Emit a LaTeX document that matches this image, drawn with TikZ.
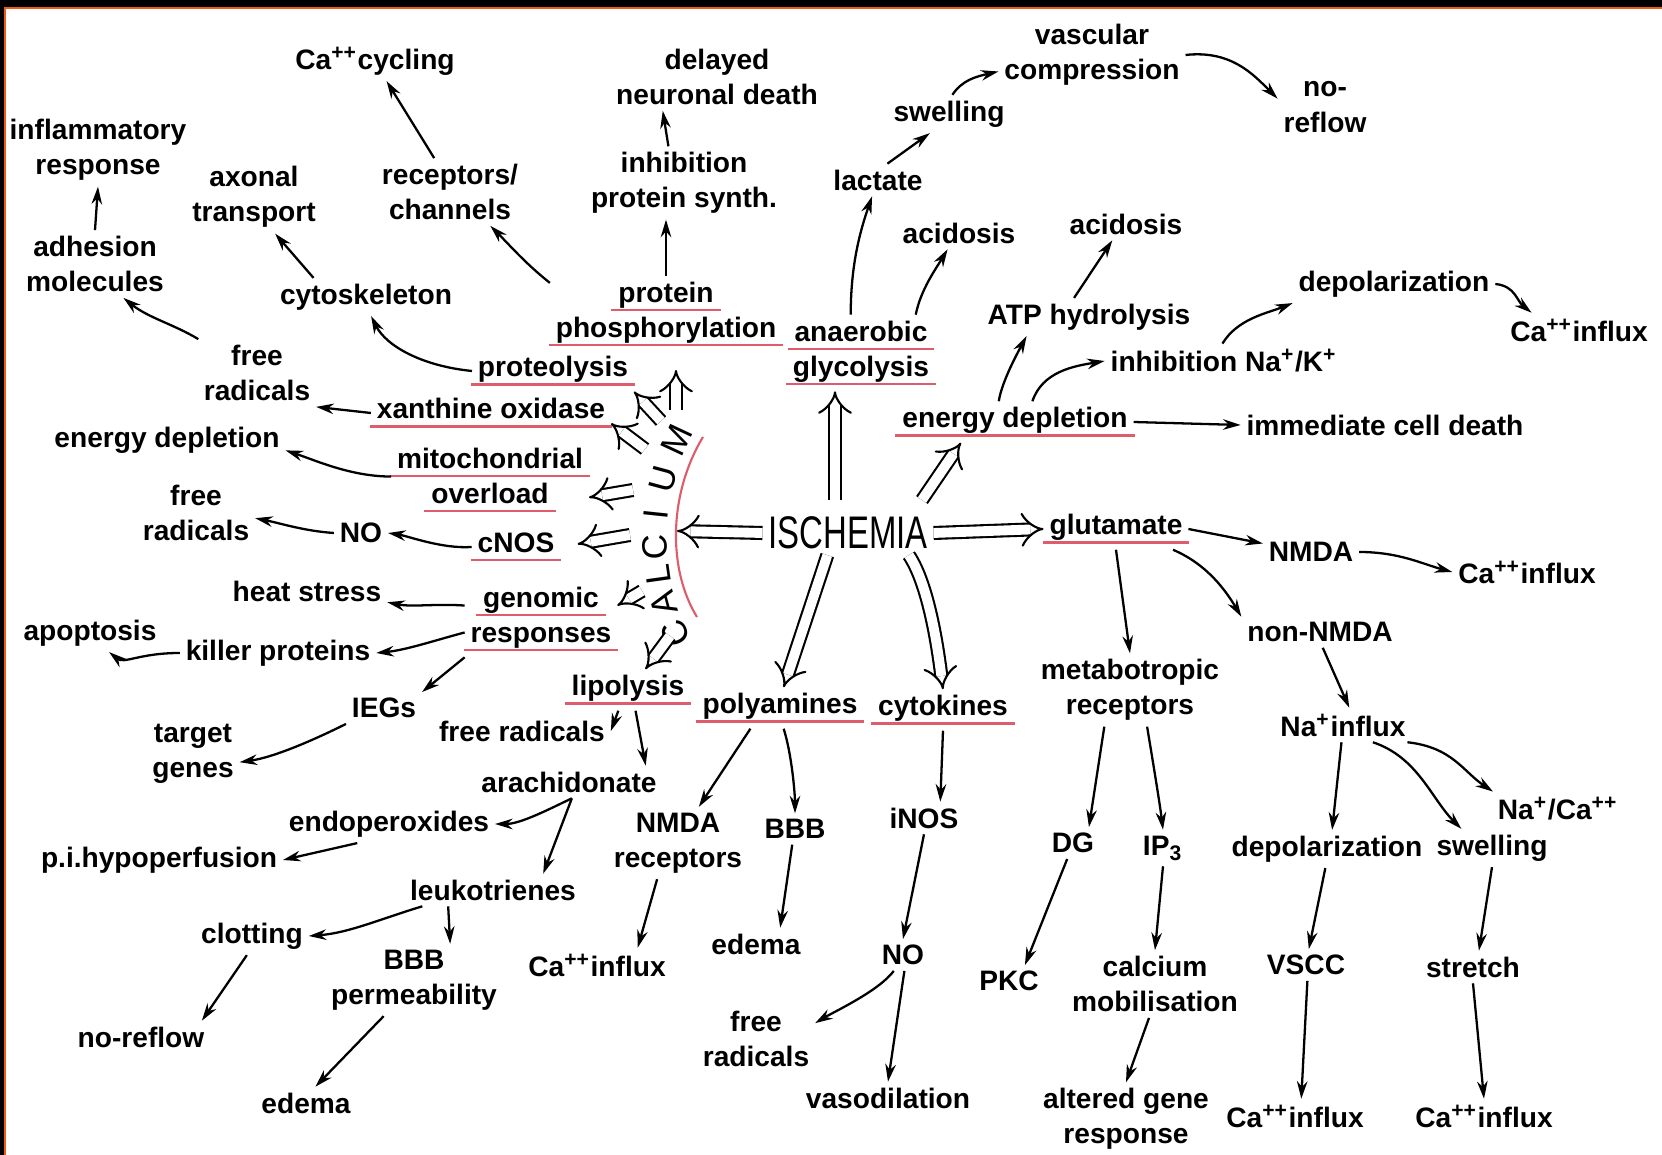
\documentclass[tikz,border=0pt]{standalone}
\usepackage{fontspec}
\setmainfont{Liberation Sans}
\usetikzlibrary{arrows.meta}
\definecolor{ulred}{RGB}{222,92,108}
\definecolor{frameorange}{RGB}{240,90,20}
\newcommand{\Capp}{Ca\textsuperscript{++}}
\newcommand{\redul}[1]{\setbox0=\hbox{#1}\rlap{\kern-2pt\textcolor{ulred}{\rule[-2.6pt]{\dimexpr\wd0+4pt\relax}{0.7pt}}}\box0}

\begin{document}
\begin{tikzpicture}[x=0.01cm, y=-0.01cm,
        every node/.style={font=\fontsize{8}{10}\selectfont\bfseries, align=center, inner sep=1.5pt},
        arr/.style={-{Stealth[length=5pt, width=3pt]}, line width=0.65pt},
        fat/.style={double, double distance=2.8pt, line width=0.6pt, -{Implies[scale=1.8]}},
        bigtext/.style={font=\fontsize{13}{15}\selectfont},
        ringletter/.style={font=\fontsize{10}{12}\selectfont, inner sep=0pt}
    ]
        \useasboundingbox (0,0) rectangle (1662,1155);
        \fill[white] (0,0) rectangle (1662,1155);
        \fill[black] (0,0) rectangle (1662,7);
        \fill[black] (0,0) rectangle (4,1155);
        \draw[frameorange, line width=0.6pt] (5,1155) -- (5,8) -- (1662,8);

        \node (cacyc) at (375,61) {\Capp cycling};
        \node (delayed) at (717,77) {delayed\\neuronal death};
        \node (vascular) at (1092,55) {vascular\\compression};
        \node (noreflowA) at (1325,107) {no-\\reflow};
        \node (inflam) at (98,150) {inflammatory\\response};
        \node (axonal) at (254,197) {axonal\\transport};
        \node (recept) at (450,192) {receptors/\\channels};
        \node (inhib) at (684,183) {inhibition\\protein synth.};
        \node (swellA) at (949,114) {swelling};
        \node (lactate) at (878,180) {lactate};
        \node (acidA) at (959,233) {acidosis};
        \node (acidB) at (1126,224) {acidosis};
        \node (adhesion) at (95,264) {adhesion\\molecules};
        \node (cytosk) at (366,297) {cytoskeleton};
        \node (protphos) at (666,314) {\redul{protein}\\\redul{phosphorylation}};
        \node (atp) at (1089,317) {ATP hydrolysis};
        \node (depolA) at (1394,284) {depolarization};
        \node (cainA) at (1579,330) {\Capp influx};
        \node (anaer) at (861,353) {\redul{anaerobic}\\\redul{glycolysis}};
        \node (freeradA) at (257,373) {free\\radicals};
        \node (proteo) at (553,371) {\redul{proteolysis}};
        \node (inhibNa) at (1224,361) {inhibition Na\textsuperscript{+}/K\textsuperscript{+}};
        \node (xanth) at (491,413) {\redul{xanthine oxidase}};
        \node (energyL) at (167,440) {energy depletion};
        \node (energyR) at (1015,422) {\redul{energy depletion}};
        \node (immed) at (1385,425) {immediate cell death};
        \node (mito) at (490,480) {\redul{mitochondrial}\\\redul{overload}};
        \node (freeradB) at (196,513) {free\\radicals};
        \node (noA) at (361,533) {NO};
        \node (cnos) at (516,547) {\redul{cNOS}};
        \node[bigtext] (isch) at (848,533) {\scalebox{0.72}[1]{ISCHEMIA}};
        \node (glut) at (1116,529) {\redul{glutamate}};
        \node (nmdaA) at (1311,552) {NMDA};
        \node (cainB) at (1527,572) {\Capp influx};
        \node (heat) at (307,591) {heat stress};
        \node (genomic) at (541,619) {\redul{genomic}\\\redul{responses}};
        \node (apopt) at (90,633) {apoptosis};
        \node (killer) at (278,653) {killer proteins};
        \node (nonnmda) at (1320,632) {non-NMDA};
        \node (metabo) at (1130,690) {metabotropic\\receptors};
        \node (lipo) at (628,690) {\redul{lipolysis}};
        \node (polyam) at (780,708) {\redul{polyamines}};
        \node (cytok) at (943,710) {\redul{cytokines}};
        \node (iegs) at (384,708) {IEGs};
        \node (freeradC) at (522,731) {free radicals};
        \node (target) at (193,754) {target\\genes};
        \node (nainf) at (1343,725) {Na\textsuperscript{+}influx};
        \node (arach) at (569,782) {arachidonate};
        \node (endo) at (389,824) {endoperoxides};
        \node (hypo) at (159,860) {p.i.hypoperfusion};
        \node (nmdarec) at (678,843) {NMDA\\receptors};
        \node (bbbA) at (795,829) {BBB};
        \node (inos) at (924,818) {iNOS};
        \node (dg) at (1073,843) {DG};
        \node (ip3) at (1163,848) {IP\textsubscript{3}};
        \node (depolB) at (1327,849) {depolarization};
        \node (swellB) at (1492,848) {swelling};
        \node (naca) at (1558,809) {Na\textsuperscript{+}/Ca\textsuperscript{++}};
        \node (leuko) at (493,890) {leukotrienes};
        \node (clot) at (252,936) {clotting};
        \node (bbbB) at (414,980) {BBB\\permeability};
        \node (cainC) at (597,965) {\Capp influx};
        \node (edemaA) at (756,944) {edema};
        \node (noB) at (903,955) {NO};
        \node (pkc) at (1009,981) {PKC};
        \node (calmob) at (1155,984) {calcium\\mobilisation};
        \node (vscc) at (1306,965) {VSCC};
        \node (stretch) at (1473,967) {stretch};
        \node (noreflowB) at (141,1037) {no-reflow};
        \node (freeradD) at (756,1039) {free\\radicals};
        \node (vaso) at (888,1098) {vasodilation};
        \node (edemaB) at (306,1103) {edema};
        \node (altered) at (1126,1119) {altered gene\\response};
        \node (cainD) at (1295,1116) {\Capp influx};
        \node (cainE) at (1484,1116) {\Capp influx};

        \foreach \ch/\px/\py/\ang [count=\i] in {C/675/634/113, A/664/603/105, L/658/575/98, C/655/547/92, I/656/514/84, U/663/479/75, M/677/440/65}
            \node[ringletter, rotate=\ang] (cal\i) at (\px,\py) {\ch};
        \draw[ulred, line width=0.6pt] (703,437) .. controls (668,495) and (668,570) .. (697,617);

        \coordinate (iup) at (835,500);
        \coordinate (iur) at (922,500);
        \coordinate (caarc) at (677,531);
        \coordinate (ca1) at (676,410);
        \coordinate (ca2) at (661,421);
        \coordinate (ca3) at (645,449);
        \coordinate (ca4) at (633,490);
        \coordinate (ca5) at (630,535);
        \coordinate (ca6) at (642,591);
        \coordinate (ca7) at (670,636);

        \draw[fat] (iup) -- (iup |- anaer.south);
        \draw[fat] (iur) -- (energyR.-159);
        \draw[fat] (isch.east) -- (glut.west);
        \draw[fat] (isch.-133) -- (polyam.80);
        \draw[fat] (isch.-20) .. controls +(20,30) and +(-5,-40) .. (cytok.north);
        \draw[fat] (isch.west) -- (caarc);
        \draw[fat, shorten >=5pt] (ca1) -- (ca1 |- protphos.south);
        \draw[fat] (ca2) -- (proteo.south east);
        \draw[fat] (ca3) -- (xanth.-5);
        \draw[fat] (ca4) -- (mito.-10);
        \draw[fat, shorten >=5pt] (ca5) -- (cnos.east);
        \draw[fat] (ca6) -- (genomic.10);
        \draw[fat] (ca7) -- (lipo.50);

        \draw[arr] (adhesion.north) -- (inflam.south);
        \draw[arr] (freeradA.150) .. controls +(-25,-15) and +(25,20) .. (adhesion.-50);
        \draw[arr] (xanth.west) -- (freeradA.south east);
        \draw[arr] (proteo.west) .. controls +(-50,-5) and +(15,30) .. (cytosk.-75);
        \draw[arr] (cytosk.160) -- (axonal.-60);
        \draw[arr] (protphos.165) .. controls +(-25,-20) and +(20,20) .. (recept.-40);
        \draw[arr] (recept.115) -- (cacyc.-60);
        \draw[arr] (protphos.north) -- (protphos.north |- inhib.south);
        \draw[arr] (inhib.113) -- (delayed.-148);
        \draw[arr] (anaer.105) .. controls +(0,-50) and +(-12,35) .. (lactate.-110);
        \draw[arr] (lactate.60) -- (swellA.-135);
        \draw[arr] (swellA.80) .. controls +(10,-15) and +(-22,5) .. (vascular.190);
        \draw[arr] (vascular.east) .. controls +(45,-5) and +(-25,-25) .. (noreflowA.170);
        \draw[arr] (anaer.35) .. controls +(5,-25) and +(-12,20) .. (acidA.-125);
        \draw[arr] (energyR.128) .. controls +(3,-20) and +(-8,15) .. (atp.-163);
        \draw[arr] (atp.128) -- (acidB.-130);
        \draw[arr] (energyR.50) .. controls +(10,-30) and +(-30,5) .. (inhibNa.west);
        \draw[arr] (inhibNa.95) .. controls +(15,-25) and +(-25,10) .. (depolA.south west);
        \draw[arr] (depolA.east) .. controls +(20,2) and +(-15,-12) .. (cainA.160);
        \draw[arr] (energyR.east) -- (immed.west);
        \draw[arr] (mito.178) .. controls +(-40,0) and +(30,10) .. (energyL.-5);
        \draw[arr] (noA.west) .. controls +(-30,-2) and +(25,5) .. (freeradB.-5);
        \draw[arr] (cnos.west) .. controls +(-30,2) and +(20,3) .. (noA.east);
        \draw[arr] (genomic.170) .. controls +(-30,-2) and +(25,5) .. (heat.-8);
        \draw[arr] (genomic.190) .. controls +(-30,8) and +(30,-3) .. (killer.east);
        \draw[arr] (genomic.south west) -- (iegs.north east);
        \draw[arr] (killer.west) .. controls +(-40,0) and +(15,12) .. (apopt.-45);
        \draw[arr] (iegs.south west) .. controls +(-30,15) and +(35,-5) .. (target.-10);
        \draw[arr] (lipo.-115) -- (freeradC.east);
        \draw[arr] (lipo.-70) -- (arach.12);
        \draw[arr] (arach.-80) .. controls +(-25,12) and +(25,0) .. (endo.east);
        \draw[arr] (arach.-80) -- (leuko.18);
        \draw[arr] (endo.-149) -- (hypo.east);
        \draw[arr] (leuko.-167) .. controls +(-40,12) and +(40,-3) .. (clot.east);
        \draw[arr] (leuko.-160) -- (bbbB.45);
        \draw[arr] (clot.-105) -- (noreflowB.15);
        \draw[arr] (bbbB.-130) -- (edemaB.60);
        \draw[arr] (polyam.-145) -- (nmdarec.60);
        \draw[arr] (polyam.-80) .. controls +(8,25) and +(0,-20) .. (bbbA.north);
        \draw[arr] (nmdarec.-120) -- (cainC.23);
        \draw[arr] (bbbA.-100) -- (edemaA.34);
        \draw[arr] (cytok.south) -- (inos.45);
        \draw[arr] (inos.south) -- (noB.north);
        \draw[arr] (noB.-120) .. controls +(-15,20) and +(20,-12) .. (freeradD.15);
        \draw[arr] (noB.-85) -- (vaso.north);
        \draw[arr] (glut.east) -- (nmdaA.170);
        \draw[arr] (nmdaA.east) .. controls +(40,0) and +(-30,-8) .. (cainB.west);
        \draw[arr] (glut.-20) .. controls +(35,15) and +(-15,-25) .. (nonnmda.169);
        \draw[arr] (glut.south) -- (metabo.north);
        \draw[arr] (nonnmda.-80) -- (nainf.70);
        \draw[arr] (metabo.-125) -- (dg.45);
        \draw[arr] (metabo.-65) .. controls +(5,30) and +(-3,-25) .. (ip3.north);
        \draw[arr] (dg.-110) -- (pkc.45);
        \draw[arr] (ip3.south) -- (calmob.north);
        \draw[arr] (calmob.-100) -- (altered.north);
        \draw[arr] (nainf.-95) -- (depolB.75);
        \draw[arr] (nainf.-30) .. controls +(45,15) and +(-30,-30) .. (swellB.148);
        \draw[arr] (nainf.-15) .. controls +(45,5) and +(-30,-20) .. (naca.165);
        \draw[arr] (depolB.-95) -- (vscc.80);
        \draw[arr] (swellB.south) -- (stretch.70);
        \draw[arr] (vscc.-85) -- (cainD.70);
        \draw[arr] (stretch.south) -- (cainE.north);
    \end{tikzpicture}
\end{document}
